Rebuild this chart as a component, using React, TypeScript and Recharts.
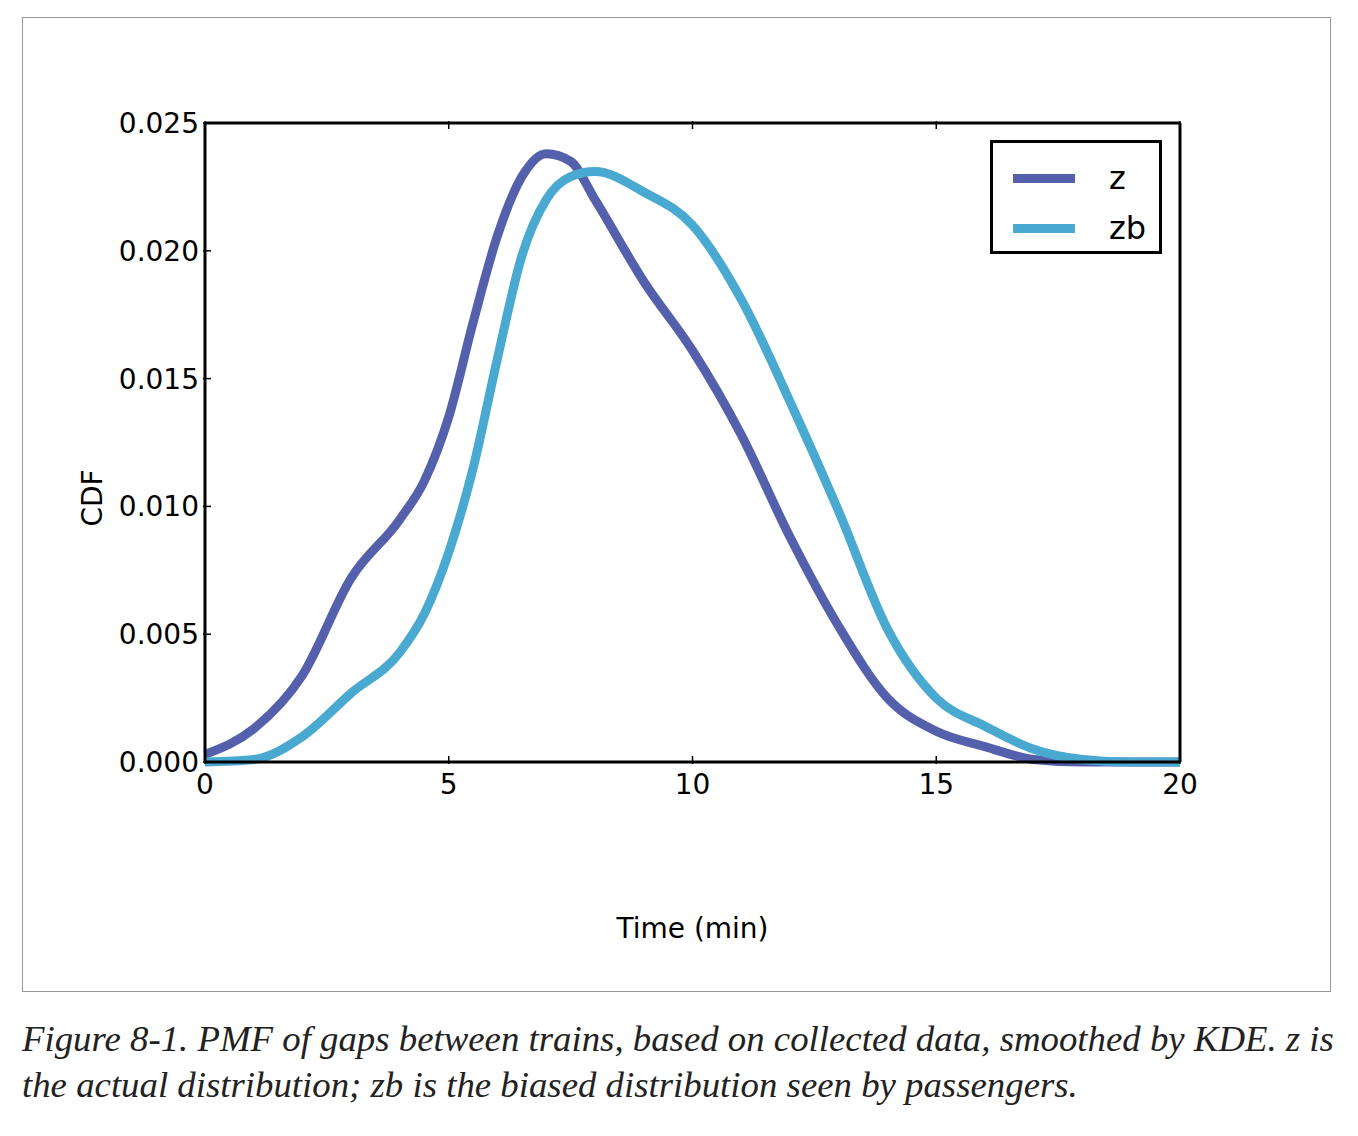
import { LineChart, Line, XAxis, YAxis, Legend } from 'recharts'

const times = [0, 1, 2, 3, 4, 4.5, 5, 5.5, 6, 6.5, 7, 7.5, 8, 9, 10, 11, 12, 13, 14, 15, 16, 17, 18, 19, 20]
const zValues = [0.0003, 0.0013, 0.0034, 0.0072, 0.0095, 0.011, 0.0135, 0.0172, 0.0206, 0.0229, 0.0238, 0.0235, 0.022, 0.0188, 0.0161, 0.0128, 0.0088, 0.0053, 0.0025, 0.0012, 0.0006, 0.0001, 0, 0, 0]
const zbValues = [0, 0.0001, 0.001, 0.0027, 0.0043, 0.0058, 0.0082, 0.0115, 0.0158, 0.0198, 0.022, 0.0229, 0.0231, 0.0223, 0.021, 0.0181, 0.0141, 0.0098, 0.0052, 0.0025, 0.0014, 0.0005, 0.0001, 0, 0]
const xTicks = [0, 5, 10, 15, 20]
const yTicks = [0, 0.005, 0.01, 0.015, 0.02, 0.025]

const Z_COLOR = '#5560ad'
const ZB_COLOR = '#4aa9d1'
const FONT = 'DejaVu Sans, sans-serif'

const data = times.map((t, i) => ({ t, z: zValues[i], zb: zbValues[i] }))

const BottomTick = (p: any) => (
  <g>
    <line x1={p.x} x2={p.x} y1={p.y} y2={p.y - 8} stroke="#000" strokeWidth={1.5} />
    <text x={p.x} y={p.y + 30} textAnchor="middle" fontSize={28} fontFamily={FONT} fill="#000">{p.payload.value}</text>
  </g>
)
const TopTick = (p: any) => (
  <line x1={p.x} x2={p.x} y1={p.y} y2={p.y + 8} stroke="#000" strokeWidth={1.5} />
)
const LeftTick = (p: any) => (
  <g>
    <line x1={p.x} x2={p.x + 8} y1={p.y} y2={p.y} stroke="#000" strokeWidth={1.5} />
    <text x={p.x - 4} y={p.y + 10} textAnchor="end" fontSize={28} fontFamily={FONT} fill="#000">{p.payload.value.toFixed(3)}</text>
  </g>
)
const RightTick = (p: any) => (
  <line x1={p.x} x2={p.x - 8} y1={p.y} y2={p.y} stroke="#000" strokeWidth={1.5} />
)

const LegendBox = () => (
  <div style={{ border: '3px solid #000', width: 172, height: 114, background: '#fff', fontFamily: FONT, fontSize: 32, boxSizing: 'border-box', padding: '10px 0 0 20px' }}>
    {[['z', Z_COLOR], ['zb', ZB_COLOR]].map(([n, c]) => (
      <div key={n} style={{ display: 'flex', alignItems: 'center', height: 50 }}>
        <div style={{ width: 62, height: 9, background: c, marginRight: 34 }} />
        <span>{n}</span>
      </div>
    ))}
  </div>
)

const axisLine = { stroke: '#000', strokeWidth: 3 }

export default function App() {
  return (
    <div style={{ position: 'absolute', left: 0, top: 0, width: 1358, height: 1136, background: '#fff' }}>
      <div style={{ position: 'absolute', left: 22, top: 17, width: 1307, height: 973, border: '1.5px solid #999' }} />
      <div style={{ position: 'absolute', left: 0, top: 0 }}>
        <LineChart width={1358} height={1000} data={data} margin={{ top: 122, right: 177, bottom: 64, left: 105 }}>
          <XAxis dataKey="t" type="number" domain={[0, 20]} ticks={xTicks} xAxisId="b" height={60} tickSize={0} tickLine={false} axisLine={axisLine} tick={BottomTick} interval={0} />
          <XAxis dataKey="t" type="number" domain={[0, 20]} ticks={xTicks} xAxisId="t" orientation="top" height={1} tickSize={0} tickLine={false} axisLine={axisLine} tick={TopTick} interval={0} />
          <YAxis type="number" domain={[0, 0.025]} ticks={yTicks} yAxisId="l" width={100} tickSize={0} tickLine={false} axisLine={axisLine} tick={LeftTick} interval={0} />
          <YAxis type="number" domain={[0, 0.025]} ticks={yTicks} yAxisId="r" orientation="right" width={1} tickSize={0} tickLine={false} axisLine={axisLine} tick={RightTick} interval={0} />
          <Line xAxisId="b" yAxisId="l" dataKey="z" type="monotone" stroke={Z_COLOR} strokeWidth={9} dot={false} isAnimationActive={false} />
          <Line xAxisId="b" yAxisId="l" dataKey="zb" type="monotone" stroke={ZB_COLOR} strokeWidth={9} dot={false} isAnimationActive={false} />
          <Legend content={LegendBox} wrapperStyle={{ position: 'absolute', left: 990, top: 140, width: 172 }} />
        </LineChart>
      </div>
      <div style={{ position: 'absolute', left: 0, top: 912, width: 1385, textAlign: 'center', fontFamily: FONT, fontSize: 28 }}>Time (min)</div>
      <div style={{ position: 'absolute', left: 92, top: 498, transform: 'translate(-50%,-50%) rotate(-90deg)', fontFamily: FONT, fontSize: 28 }}>CDF</div>
      <div style={{ position: 'absolute', left: 22, top: 1016, fontFamily: 'Liberation Serif, serif', fontStyle: 'italic', fontSize: 36.8, lineHeight: '46px', color: '#222', whiteSpace: 'nowrap' }}>
        Figure 8-1. PMF of gaps between trains, based on collected data, smoothed by KDE. z is<br />
        the actual distribution; zb is the biased distribution seen by passengers.
      </div>
    </div>
  )
}
